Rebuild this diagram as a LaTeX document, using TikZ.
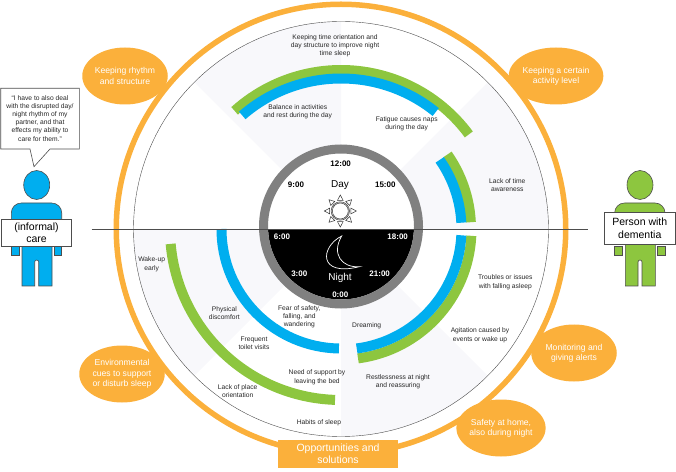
\documentclass[tikz,border=0pt]{standalone}
\usepackage{fontspec}
\setmainfont{Liberation Sans}
\usepackage{xcolor}
\usetikzlibrary{shapes.geometric}
\definecolor{ringorange}{HTML}{FBB03B}
\definecolor{bandblue}{HTML}{00AEEF}
\definecolor{bandgreen}{HTML}{8DC63F}
\definecolor{sectorgray}{HTML}{F8F8FB}
\definecolor{clockgray}{HTML}{808080}
\definecolor{edgegray}{HTML}{4D4D4D}

\begin{document}
\begin{tikzpicture}[x=1pt, y=1pt,
    lbl/.style={font=\fontsize{6.7}{8.2}\selectfont, align=center, inner sep=0pt, text=black!85},
    blob/.style={ellipse, fill=ringorange, minimum width=85.5pt, minimum height=57pt, inner sep=0pt,
                 align=center, text=white, font=\fontsize{8.6}{10.4}\selectfont},
    clocklbl/.style={font=\bfseries\fontsize{8}{9}\selectfont, inner sep=0pt},
    signbox/.style={draw=edgegray, fill=white, line width=0.6pt, align=center, inner sep=0pt,
                    font=\fontsize{10.5}{12.4}\selectfont},
    limb/.style={draw=edgegray, line width=0.6pt},
    blueband/.style={draw=bandblue, line width=10pt},
    greenband/.style={draw=bandgreen, line width=10pt}]
  \useasboundingbox (0,0) rectangle (676,471);
  \coordinate (ctr) at (341,242);
  \coordinate (clock) at (341,244.5);

  % wheel
  \draw[ringorange, line width=5.5pt] (ctr) circle (224.75);
  \foreach \ang in {90,0,180,270}
    \fill[sectorgray] (ctr) -- ++(\ang:207.5) arc[start angle=\ang, delta angle=45, radius=207.5] -- cycle;
  \draw[edgegray, line width=0.4pt] (ctr) circle (207.5);

  % bands
  \draw[greenband] ([shift={(132:159)}]ctr) arc[start angle=132, end angle=36.5, radius=159];
  \draw[blueband] ([shift={(131:150.5)}]ctr) arc[start angle=131, end angle=51, radius=150.5];
  \draw[greenband] ([shift={(35:130)}]ctr) arc[start angle=35, end angle=3, radius=130];
  \draw[blueband] ([shift={(35:120.5)}]ctr) arc[start angle=35, end angle=3, radius=120.5];
  \draw[greenband] ([shift={(-3:130.5)}]ctr) arc[start angle=-3, end angle=-82.5, radius=130.5];
  \draw[blueband] ([shift={(-3:120.5)}]ctr) arc[start angle=-3, end angle=-82.5, radius=120.5];
  \draw[blueband] ([shift={(180:119.5)}]ctr) arc[start angle=180, end angle=269, radius=119.5];
  \draw[greenband] ([shift={(185:171)}]ctr) arc[start angle=185, end angle=268, radius=171];

  % clock
  \fill[white] (clock) circle (73);
  \begin{scope}
    \clip (clock) circle (73);
    \fill[black] (260,150) rectangle (420,242);
  \end{scope}
  \draw[clockgray, line width=9pt] (clock) circle (77.5);
  \coordinate (lineL) at (91.7,242);
  \coordinate (lineR) at (587.7,242);
  \draw[edgegray, line width=0.9pt] (lineL) -- (lineR);

  \node[clocklbl] (t12) at (340.7,307) {12:00};
  \node[clocklbl] (t9) at (296,286.7) {9:00};
  \node[clocklbl] (t15) at (385.3,286.7) {15:00};
  \node[clocklbl, white] (t6) at (282,234.3) {6:00};
  \node[clocklbl, white] (t18) at (397.7,234.3) {18:00};
  \node[clocklbl, white] (t3) at (299.3,197.7) {3:00};
  \node[clocklbl, white] (t21) at (379.7,197.7) {21:00};
  \node[clocklbl, white] (t0) at (340.3,176.3) {0:00};
  \node[inner sep=0pt, font=\fontsize{10}{12}\selectfont] (day) at (340,286) {Day};
  \node[inner sep=0pt, white, font=\fontsize{10}{12}\selectfont] (night) at (340,193) {Night};

  % sun and moon
  \coordinate (sun) at (340.3,260);
  \draw[black!80, line width=0.5pt] (sun) circle (9.2) (sun) circle (8);
  \foreach \ang in {0,45,...,315}
    \draw[black!80, line width=0.5pt] ([shift={(\ang-15:11)}]sun) -- ([shift={(\ang:16)}]sun) -- ([shift={(\ang+15:11)}]sun) -- cycle;
  \draw[white, line width=0.7pt] (341.7,235) .. controls (320,224) and (318,194) .. (359.3,204.3)
    .. controls (342,203) and (331,217) .. (341.7,235) -- cycle;

  % wheel labels
  \node[lbl] (keeptime) at (335,425) {Keeping time orientation and\\day structure to improve night\\time sleep};
  \node[lbl] (balance) at (297.7,359) {Balance in activities\\and rest during the day};
  \node[lbl] (fatigue) at (406.7,347) {Fatigue causes naps\\during the day};
  \node[lbl] (lacktime) at (507.3,286) {Lack of time\\awareness};
  \node[lbl] (troubles) at (505.3,188.7) {Troubles or issues\\with falling asleep};
  \node[lbl] (agitation) at (480,135.7) {Agitation caused by\\events or wake up};
  \node[lbl] (dreaming) at (366.7,145.3) {Dreaming};
  \node[lbl] (restless) at (398,89.3) {Restlessness at night\\and reassuring};
  \node[lbl] (habits) at (319,48.3) {Habits of sleep};
  \node[lbl] (support) at (317,93.7) {Need of support by\\leaving the bed};
  \node[lbl] (lackplace) at (237.7,79.7) {Lack of place\\orientation};
  \node[lbl] (toilet) at (254,127.7) {Frequent\\toilet visits};
  \node[lbl] (physical) at (224.3,157.7) {Physical\\discomfort};
  \node[lbl] (fear) at (299.3,154.3) {Fear of safety,\\falling, and\\wandering};
  \node[lbl] (wakeup) at (151.7,206.7) {Wake-up\\early};

  % solutions
  \node[blob] (rhythm) at (125,395) {Keeping rhythm\\and structure};
  \node[blob] (activity) at (556,395) {Keeping a certain\\activity level};
  \node[blob] (cues) at (122,97) {Environmental\\cues to support\\or disturb sleep};
  \node[blob] (alerts) at (574,118) {Monitoring and\\giving alerts};
  \node[blob] (safety) at (501,43) {Safety at home,\\also during night};
  \node[fill=ringorange, minimum width=120pt, minimum height=28pt, inner sep=0pt, align=center,
        text=white, font=\fontsize{10.5}{12}\selectfont] (opps) at (338,17) {Opportunities and\\solutions};

  % speech
  \draw[edgegray, fill=white, line width=0.6pt] (0.7,382.7) -- (79.3,382.7) -- (79.3,322) -- (50,322)
    -- (34,304.3) -- (30,322) -- (0.7,322) -- cycle;
  \node[lbl] (quote) at (40,352.7) {“I have to also deal\\with the disrupted day/\\night rhythm of my\\partner, and that\\effects my ability to\\care for them.”};

  % people
  \foreach \off/\col in {0/bandblue, 603.3/bandgreen} {
    \begin{scope}[xshift=\off pt]
      \draw[limb, fill=\col] (36.7,286) ellipse (13 and 14.5);
      \draw[limb, fill=\col] (11.3,240) -- (11.3,258) arc[start angle=180, end angle=90, radius=10] -- (51.7,268)
        arc[start angle=90, end angle=0, radius=10] -- (61.7,240) -- cycle;
      \draw[limb, fill=\col] (11.3,225) rectangle (19.3,215.3);
      \draw[limb, fill=\col] (54.3,225) rectangle (61.7,215.3);
      \draw[limb, fill=\col] (22,230) -- (22,185) -- (34.7,185) -- (34.7,209) arc[start angle=180, end angle=0, radius=2] -- (38.7,185)
        -- (52,185) -- (52,230) -- cycle;
    \end{scope}
  }
  \node[signbox, minimum width=70.4pt, minimum height=27pt] (carer) at (36.5,238.5) {(informal)\\care};
  \node[signbox, minimum width=71pt, minimum height=32pt] (patient) at (639.8,242.7) {Person with\\dementia};
\end{tikzpicture}
\end{document}
